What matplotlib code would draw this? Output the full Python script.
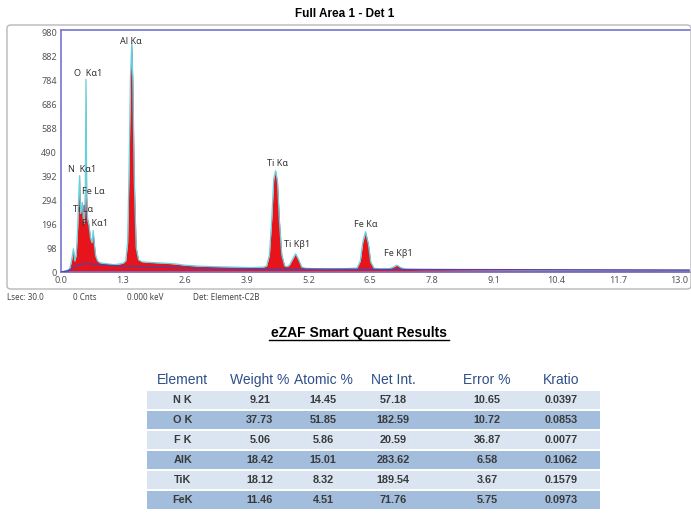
import matplotlib
matplotlib.use("Agg")
import matplotlib.pyplot as plt
from matplotlib.patches import FancyBboxPatch
from matplotlib.lines import Line2D

plt.rcParams['font.family'] = ['Noto Sans', 'DejaVu Sans']

# --- spectrum (keV, counts) ---
energy = [0.00, 0.10, 0.18, 0.22, 0.26, 0.29, 0.32, 0.35, 0.37, 0.39, 0.41, 0.43,
          0.45, 0.47, 0.49, 0.51, 0.525, 0.54, 0.56, 0.59, 0.62, 0.65, 0.677, 0.70,
          0.73, 0.77, 0.82, 0.90, 1.00, 1.10, 1.20, 1.30, 1.36, 1.40, 1.43, 1.46,
          1.487, 1.51, 1.54, 1.58, 1.63, 1.70, 1.80, 2.00, 2.20, 2.40, 2.60, 2.90,
          3.20, 3.60, 4.00, 4.25, 4.32, 4.38, 4.43, 4.47, 4.51, 4.55, 4.59, 4.64,
          4.70, 4.75, 4.80, 4.86, 4.93, 4.99, 5.06, 5.15, 5.30, 5.60, 6.00, 6.22,
          6.29, 6.34, 6.40, 6.46, 6.51, 6.58, 6.70, 6.90, 6.98, 7.06, 7.14, 7.25,
          7.60, 8.00, 9.00, 10.0, 11.0, 12.0, 13.2]
counts = [0, 4, 12, 45, 95, 45, 70, 180, 300, 395, 240, 265,
          285, 215, 200, 330, 790, 310, 215, 190, 140, 120, 170, 115,
          65, 45, 38, 35, 33, 30, 32, 36, 45, 120, 420, 800,
          940, 780, 380, 100, 50, 42, 40, 38, 36, 33, 28, 24,
          22, 20, 18, 20, 24, 70, 220, 380, 415, 370, 210, 70,
          25, 22, 28, 50, 75, 52, 20, 15, 14, 13, 14, 16,
          45, 120, 165, 115, 40, 15, 12, 13, 20, 28, 18, 11,
          10, 10, 9, 8, 7, 7, 6]

bkg_energy = [0, 0.15, 0.3, 0.5, 0.8, 1.2, 2.0, 3.0, 5.0, 8.0, 13.2]
bkg_counts = [0, 5, 25, 35, 30, 25, 20, 15, 12, 10, 8]

peak_labels = ["Al Kα", "O  Kα1", "N  Kα1", "Fe Lα", "Ti Lα", "F  Kα1",
               "Ti Kα", "Ti Kβ1", "Fe Kα", "Fe Kβ1"]
label_kev = [1.47, 0.57, 0.44, 0.67, 0.47, 0.71, 4.54, 4.96, 6.41, 7.08]
label_cnt = [943, 815, 422, 328, 258, 197, 443, 111, 193, 74]

xticks = [0.0, 1.3, 2.6, 3.9, 5.2, 6.5, 7.8, 9.1, 10.4, 11.7, 13.0]
yticks = [0, 98, 196, 294, 392, 490, 588, 686, 784, 882, 980]

# --- quant table ---
col_names = ["Element", "Weight %", "Atomic %", "Net Int.", "Error %", "Kratio"]
elements = ["N K", "O K", "F K", "AlK", "TiK", "FeK"]
weight_pct = ["9.21", "37.73", "5.06", "18.42", "18.12", "11.46"]
atomic_pct = ["14.45", "51.85", "5.86", "15.01", "8.32", "4.51"]
net_int = ["57.18", "182.59", "20.59", "283.62", "189.54", "71.76"]
error_pct = ["10.65", "10.72", "36.87", "6.58", "3.67", "5.75"]
kratio = ["0.0397", "0.0853", "0.0077", "0.1062", "0.1579", "0.0973"]

W, H = 691, 513
fig = plt.figure(figsize=(W / 100, H / 100), dpi=100)

# outer frame of the spectrum panel
frame = FancyBboxPatch((7 / W, 1 - 289 / H), 684 / W, 264 / H,
                       boxstyle="round,pad=0,rounding_size=0.006",
                       transform=fig.transFigure, fc="none", ec="#b8b8b8", lw=1.0)
fig.patches.append(frame)

fig.text(345 / W, 1 - 14 / H, "Full Area 1 - Det 1", ha="center", va="center",
         fontsize=8.5, fontweight="bold", family="Liberation Sans")

ax = fig.add_axes([61 / W, 1 - 272 / H, (691 - 61) / W, 242 / H])
ax.fill_between(energy, counts, color="#e8141c", lw=0, zorder=2)
ax.plot(energy, counts, color="#62d2e0", lw=0.9, zorder=3)
ax.plot(bkg_energy, bkg_counts, color="#5b3f9e", lw=1.0, zorder=4)
ax.set_xlim(0, 13.24)
ax.set_ylim(0, 992)
ax.set_xticks(xticks)
ax.set_xticklabels([f"{t:.1f}" for t in xticks])
ax.set_yticks(yticks)
ax.tick_params(length=0, labelsize=6.5, labelcolor="#555555", pad=3)
for s in ["left", "top", "bottom"]:
    ax.spines[s].set_color("#7474d4")
    ax.spines[s].set_linewidth(1.2)
ax.spines["right"].set_visible(False)

for lab, x, y in zip(peak_labels, label_kev, label_cnt):
    ax.text(x, y, lab, ha="center", va="center", fontsize=6.5, color="#333333", zorder=5)

# status line
for x, s in zip([7, 73, 127, 193], ["Lsec: 30.0", "0 Cnts", "0.000 keV", "Det: Element-C2B"]):
    fig.text(x / W, 1 - 297 / H, s, ha="left", va="center", fontsize=5.8, color="#444444")

fig.text(359 / W, 1 - 333 / H, "eZAF Smart Quant Results", ha="center", va="center",
         fontsize=10, fontweight="bold", family="Liberation Sans")
fig.lines.append(Line2D([269 / W, 449 / W], [1 - 340 / H, 1 - 340 / H],
                        transform=fig.transFigure, color="black", lw=1.0))

# table
tax = fig.add_axes([147 / W, 0, (600 - 147) / W, (513 - 370) / H])
n = len(elements)
tax.set_xlim(0, 1)
tax.set_ylim(n - 0.35, -1.5)
tax.axis("off")
band_colors = ["#dae5f1" if i % 2 == 0 else "#a3bedd" for i in range(n)]
tax.barh(range(n), [1] * n, left=0, height=0.9, color=band_colors, lw=0)
col_x = [0.079, 0.249, 0.389, 0.543, 0.751, 0.914]
for cx, name in zip(col_x, col_names):
    tax.text(cx, -1, name, ha="center", va="center", fontsize=10,
             color="#2f4f8a", family="Liberation Sans")
columns = [elements, weight_pct, atomic_pct, net_int, error_pct, kratio]
for cx, col in zip(col_x, columns):
    for i, v in enumerate(col):
        tax.text(cx, i, v, ha="center", va="center", fontsize=7.8, fontweight="bold",
                 color="#3a3a3a", family="Liberation Sans")

fig.savefig("out.png", dpi=100)
